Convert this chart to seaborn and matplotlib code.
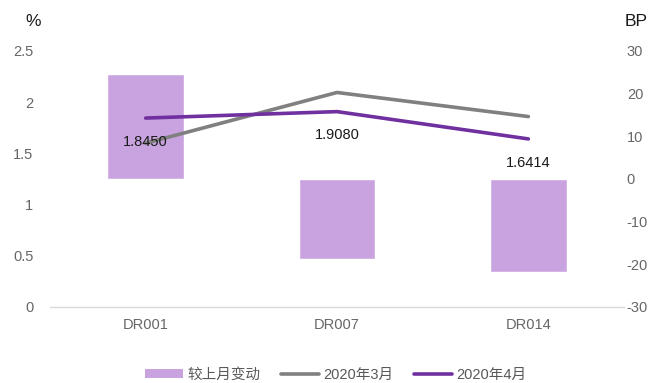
import matplotlib
matplotlib.use("Agg")
import matplotlib.pyplot as plt
import seaborn as sns
import pandas as pd
from matplotlib.patches import Patch
from matplotlib.lines import Line2D

categories = ["DR001", "DR007", "DR014"]
change_bp = [24.5, -18.7, -21.8]
mar_2020 = [1.600, 2.095, 1.860]
apr_2020 = [1.8450, 1.9080, 1.6414]
apr_labels = ["1.8450", "1.9080", "1.6414"]
left_ticks = [0, 0.5, 1, 1.5, 2, 2.5]
left_tick_labels = ["0", "0.5", "1", "1.5", "2", "2.5"]
right_ticks = [-30, -20, -10, 0, 10, 20, 30]
right_tick_labels = ["-30", "-20", "-10", "0", "10", "20", "30"]
legend_labels = ["较上月变动", "2020年3月", "2020年4月"]

bar_color = "#C9A3E0"
gray_color = "#808080"
purple_color = "#7030A0"
tick_color = "#666666"

sns.set_theme(style="white")
plt.rcParams["font.family"] = ["Liberation Sans", "Noto Sans CJK SC", "DejaVu Sans"]
plt.rcParams["axes.unicode_minus"] = False

fig = plt.figure(figsize=(6.62, 3.83), dpi=100)
ax1 = fig.add_axes([50/662, 1-307/383, (624-50)/662, (307-51)/383])
ax2 = ax1.twinx()

df_bar = pd.DataFrame({"cat": categories, "val": change_bp})
sns.barplot(data=df_bar, x="cat", y="val", ax=ax2, color=bar_color,
            saturation=1, width=0.4, order=categories)

df_line = pd.DataFrame({"cat": categories * 2,
                        "val": mar_2020 + apr_2020,
                        "series": ["m"] * 3 + ["a"] * 3})
sns.lineplot(data=df_line[df_line.series == "m"], x="cat", y="val", ax=ax1,
             color=gray_color, linewidth=2.6, sort=False)
sns.lineplot(data=df_line[df_line.series == "a"], x="cat", y="val", ax=ax1,
             color=purple_color, linewidth=2.6, sort=False)

for i, (v, lab) in enumerate(zip(apr_2020, apr_labels)):
    ax1.annotate(lab, (i, v), xytext=(0, -17), textcoords="offset points",
                 ha="center", va="center", fontsize=10.5, color="#1a1a1a")

ax1.set_zorder(ax2.get_zorder() + 1)
ax1.patch.set_visible(False)

ax1.set_xlim(-0.5, 2.5)
ax1.set_ylim(0, 2.5)
ax2.set_ylim(-30, 30)
ax1.set_yticks(left_ticks)
ax1.set_yticklabels(left_tick_labels)
ax2.set_yticks(right_ticks)
ax2.set_yticklabels(right_tick_labels)
ax1.set_xlabel("")
ax1.set_ylabel("")
ax2.set_xlabel("")
ax2.set_ylabel("")

for ax in (ax1, ax2):
    for s in ax.spines.values():
        s.set_visible(False)
    ax.grid(False)
ax1.spines["bottom"].set_visible(True)
ax1.spines["bottom"].set_color("#d9d9d9")
ax1.spines["bottom"].set_linewidth(1.0)

ax1.tick_params(axis="y", length=0, pad=12, labelsize=10.5, labelcolor=tick_color)
ax2.tick_params(axis="y", length=0, pad=2, labelsize=10.5, labelcolor=tick_color)
ax1.tick_params(axis="x", length=0, pad=8, labelsize=10.5, labelcolor=tick_color)
ax2.tick_params(axis="x", length=0)

fig.text(33/662, 1-22/383, "%", ha="center", va="center", fontsize=12.5, color="#1a1a1a")
fig.text(636/662, 1-22/383, "BP", ha="center", va="center", fontsize=12.5, color="#1a1a1a")

handles = [Patch(facecolor=bar_color, edgecolor="none"),
           Line2D([0], [0], color=gray_color, linewidth=2.6),
           Line2D([0], [0], color=purple_color, linewidth=2.6)]
fig.legend(handles, legend_labels, loc="center", bbox_to_anchor=(336/662, 1-375/383),
           ncol=3, frameon=False, fontsize=10.5, handlelength=2.6, handletextpad=0.3,
           columnspacing=1.4, labelcolor="#595959", handleheight=0.6)

fig.savefig("out.png", dpi=100)
